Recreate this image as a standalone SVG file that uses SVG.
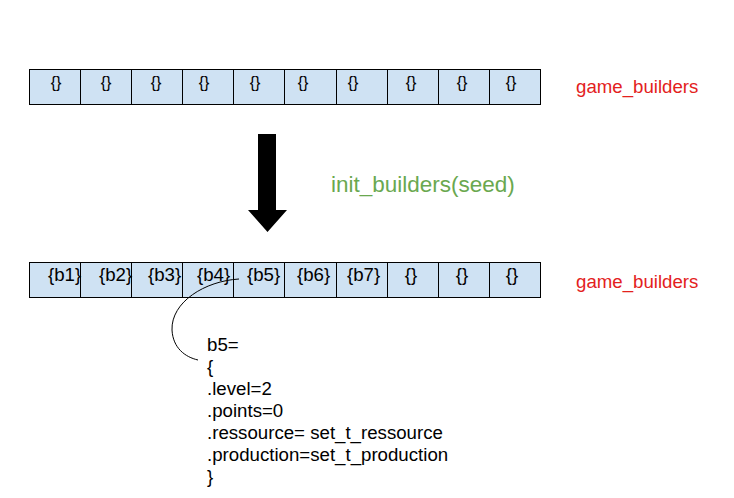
<svg xmlns="http://www.w3.org/2000/svg" width="734" height="498" viewBox="0 0 734 498">
<style>
.cell{fill:#cfe2f3;stroke:#000;stroke-width:1}
.t{font-family:"Liberation Sans",Arial,sans-serif;fill:#000}
.e{font-size:16px;text-anchor:middle}
.b{font-size:18.67px}
.red{font-family:"Liberation Sans",Arial,sans-serif;font-size:18.67px;fill:#e3211d}
.green{font-family:"Liberation Sans",Arial,sans-serif;font-size:22.5px;fill:#6aa84f}
.code{font-family:"Liberation Sans",Arial,sans-serif;font-size:18.67px;fill:#000}
</style>
<rect width="734" height="498" fill="#fff"/>
<g id="top_array">
<rect class="cell" x="29.5" y="69.5" width="51" height="35"/>
<rect class="cell" x="80.5" y="69.5" width="51" height="35"/>
<rect class="cell" x="131.5" y="69.5" width="51" height="35"/>
<rect class="cell" x="182.5" y="69.5" width="51" height="35"/>
<rect class="cell" x="233.5" y="69.5" width="51" height="35"/>
<rect class="cell" x="284.5" y="69.5" width="52" height="35"/>
<rect class="cell" x="336.5" y="69.5" width="51" height="35"/>
<rect class="cell" x="387.5" y="69.5" width="51" height="35"/>
<rect class="cell" x="438.5" y="69.5" width="51" height="35"/>
<rect class="cell" x="489.5" y="69.5" width="51" height="35"/>
<g class="t e">
<text x="56" y="88">{}</text>
<text x="106" y="88">{}</text>
<text x="156" y="88">{}</text>
<text x="204" y="88">{}</text>
<text x="255" y="88">{}</text>
<text x="303" y="88">{}</text>
<text x="353" y="88">{}</text>
<text x="411" y="88">{}</text>
<text x="462" y="88">{}</text>
<text x="511" y="88">{}</text>
</g>
</g>
<g id="top_label">
<text class="red" x="576" y="93">game_builders</text>
</g>
<g id="bottom_array">
<rect class="cell" x="29.5" y="262.5" width="51" height="35"/>
<rect class="cell" x="80.5" y="262.5" width="51" height="35"/>
<rect class="cell" x="131.5" y="262.5" width="51" height="35"/>
<rect class="cell" x="182.5" y="262.5" width="51" height="35"/>
<rect class="cell" x="233.5" y="262.5" width="51" height="35"/>
<rect class="cell" x="284.5" y="262.5" width="52" height="35"/>
<rect class="cell" x="336.5" y="262.5" width="51" height="35"/>
<rect class="cell" x="387.5" y="262.5" width="51" height="35"/>
<rect class="cell" x="438.5" y="262.5" width="51" height="35"/>
<rect class="cell" x="489.5" y="262.5" width="51" height="35"/>
<g class="t b">
<text x="48" y="281">{b1}</text>
<text x="99" y="281">{b2}</text>
<text x="148" y="281">{b3}</text>
<text x="197" y="281">{b4}</text>
<text x="247" y="281">{b5}</text>
<text x="297" y="281">{b6}</text>
<text x="347" y="281">{b7}</text>
</g>
<g class="t b" text-anchor="middle">
<text x="411" y="281">{}</text>
<text x="462" y="281">{}</text>
<text x="512" y="281">{}</text>
</g>
</g>
<g id="bottom_label">
<text class="red" x="576" y="288">game_builders</text>
</g>
<g id="call_label">
<text class="green" x="331" y="192">init_builders(seed)</text>
</g>
<g id="b5_detail">
<text class="code" x="207" y="350.5">b5=</text>
<text class="code" x="207" y="372.5">{</text>
<text class="code" x="207" y="394.5">.level=2</text>
<text class="code" x="207" y="416.5">.points=0</text>
<text class="code" x="207" y="438.5">.ressource= set_t_ressource</text>
<text class="code" x="207" y="460.5">.production=set_t_production</text>
<text class="code" x="207" y="482.5">}</text>
</g>
<g id="connectors">
<polygon points="258,134 276,134 276,210 287,210 267.5,232 248,210 258,210" fill="#000"/>
<path d="M239,279 C205,281 171,302 172,330 C173,348 185,357 198,360" fill="none" stroke="#000" stroke-width="1"/>
</g>
</svg>
